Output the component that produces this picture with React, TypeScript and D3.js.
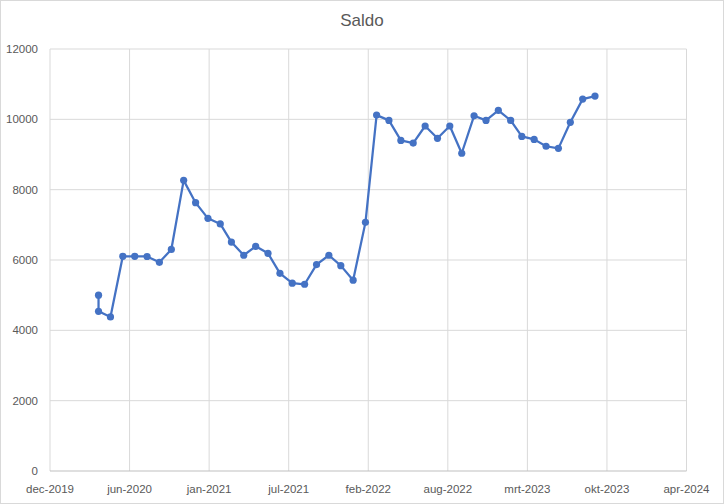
import React from "react";
import * as d3 from "d3";

const title = "Saldo";
const dates = [
  "2020-04-01", "2020-04-01", "2020-05-01", "2020-06-01", "2020-07-01", "2020-08-01", "2020-09-01", "2020-10-01",
  "2020-11-01", "2020-12-01", "2021-01-01", "2021-02-01", "2021-03-01", "2021-04-01", "2021-05-01", "2021-06-01",
  "2021-07-01", "2021-08-01", "2021-09-01", "2021-10-01", "2021-11-01", "2021-12-01", "2022-01-01", "2022-02-01",
  "2022-03-01", "2022-04-01", "2022-05-01", "2022-06-01", "2022-07-01", "2022-08-01", "2022-09-01", "2022-10-01",
  "2022-11-01", "2022-12-01", "2023-01-01", "2023-02-01", "2023-03-01", "2023-04-01", "2023-05-01", "2023-06-01",
  "2023-07-01", "2023-08-01", "2023-09-01",
];
const saldo = [
  5000, 4540, 4380, 6105, 6105, 6100, 5935, 6300,
  8265, 7630, 7185, 7025, 6510, 6135, 6390, 6190,
  5620, 5340, 5310, 5870, 6135, 5840, 5425, 7070,
  10120, 9970, 9400, 9325, 9810, 9460, 9810, 9035,
  10100, 9970, 10255, 9970, 9515, 9430, 9235, 9175,
  9915, 10575, 10660,
];
const xDomain = ["2019-12-01", "2024-04-18"];
const xTickDates = [
  "2019-12-01", "2020-06-18", "2021-01-04", "2021-07-23", "2022-02-08",
  "2022-08-27", "2023-03-15", "2023-10-01", "2024-04-18",
];
const xTickLabels = [
  "dec-2019", "jun-2020", "jan-2021", "jul-2021", "feb-2022",
  "aug-2022", "mrt-2023", "okt-2023", "apr-2024",
];
const yTicks = [0, 2000, 4000, 6000, 8000, 10000, 12000];

const W = 724;
const H = 504;
const left = 50;
const right = 686.5;
const top = 49;
const bottom = 471;
const textColor = "#595959";
const font = "'Liberation Sans', Arial, sans-serif";

export default function App() {
  const parse = (s: string) => new Date(s + "T00:00:00Z");
  const x = d3.scaleUtc().domain(xDomain.map(parse)).range([left, right]);
  const y = d3.scaleLinear().domain([0, 12000]).range([bottom, top]);
  const pts = dates.map((d, i) => ({ d: parse(d), v: saldo[i] }));
  const line = d3
    .line<{ d: Date; v: number }>()
    .x((p) => x(p.d))
    .y((p) => y(p.v));

  return (
    <svg
      width={W}
      height={H}
      style={{ position: "absolute", left: 0, top: 0, background: "#fff" }}
      fontFamily={font}
    >
      <rect x={0.5} y={0.5} width={W - 1} height={H - 1} fill="#fff" stroke="#d9d9d9" />
      <text x={W / 2} y={26} textAnchor="middle" fontSize={17} fill={textColor}>
        {title}
      </text>
      {yTicks.map((t) => (
        <g key={"y" + t}>
          {t > 0 && (
            <line x1={left} x2={right} y1={y(t)} y2={y(t)} stroke="#d9d9d9" strokeWidth={1} />
          )}
          <text x={38} y={y(t)} dy="0.35em" textAnchor="end" fontSize={11.5} fill={textColor}>
            {t}
          </text>
        </g>
      ))}
      {xTickDates.map((t, i) => (
        <g key={"x" + t}>
          <line x1={x(parse(t))} x2={x(parse(t))} y1={top} y2={bottom} stroke="#d9d9d9" strokeWidth={1} />
          <text x={x(parse(t))} y={493} textAnchor="middle" fontSize={11.5} fill={textColor}>
            {xTickLabels[i]}
          </text>
        </g>
      ))}
      <line x1={left} x2={right} y1={bottom} y2={bottom} stroke="#bfbfbf" strokeWidth={1} />
      <path d={line(pts) || ""} fill="none" stroke="#4472C4" strokeWidth={2.25} strokeLinejoin="round" />
      {pts.map((p, i) => (
        <circle key={i} cx={x(p.d)} cy={y(p.v)} r={3.6} fill="#4472C4" />
      ))}
    </svg>
  );
}
